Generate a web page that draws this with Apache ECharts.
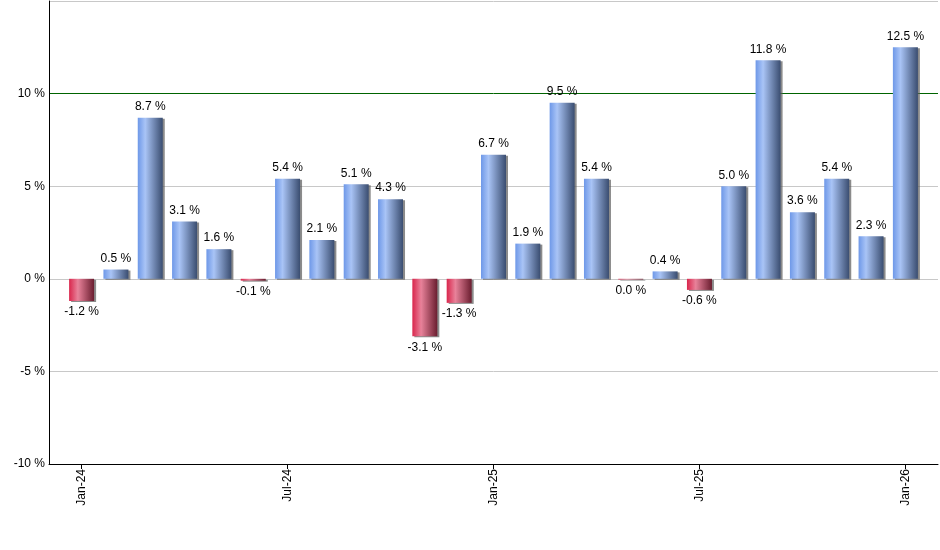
<!DOCTYPE html>
<html>
<head>
<meta charset="utf-8">
<script src="https://cdn.jsdelivr.net/npm/echarts@6/dist/echarts.min.js"></script>
<style>
  html, body { margin: 0; padding: 0; background: #fff; }
  #chart { width: 940px; height: 550px; }
</style>
</head>
<body>
<div id="chart"></div>
<script>
// monthly change, Jan-24 .. Jan-26
var months = ['Jan-24','Feb-24','Mar-24','Apr-24','May-24','Jun-24','Jul-24','Aug-24','Sep-24','Oct-24','Nov-24','Dec-24',
              'Jan-25','Feb-25','Mar-25','Apr-25','May-25','Jun-25','Jul-25','Aug-25','Sep-25','Oct-25','Nov-25','Dec-25','Jan-26'];
var values = [-1.2, 0.5, 8.7, 3.1, 1.6, -0.1, 5.4, 2.1, 5.1, 4.3, -3.1, -1.3,
              6.7, 1.9, 9.5, 5.4, -0.04, 0.4, -0.6, 5.0, 11.8, 3.6, 5.4, 2.3, 12.5];
var tickIdx = [0, 6, 12, 18, 24];
var yTicks = [-10, -5, 0, 5, 10];

var blueFill = new echarts.graphic.LinearGradient(0, 0, 1, 0, [
  {offset: 0, color: '#6e98e8'},
  {offset: 0.3, color: '#a9c4f6'},
  {offset: 1, color: '#3a4d70'}
]);
var redFill = new echarts.graphic.LinearGradient(0, 0, 1, 0, [
  {offset: 0, color: '#d9264c'},
  {offset: 0.35, color: '#e8829a'},
  {offset: 1, color: '#6a1d2f'}
]);

function fmt(v) {
  if (Math.abs(v) < 0.05) return '0.0 %';
  return v.toFixed(1) + ' %';
}

var barData = values.map(function (v, i) {
  return {
    value: [i, v],
    itemStyle: {color: v < 0 ? redFill : blueFill},
    label: {position: v < 0 ? 'bottom' : 'top'}
  };
});

var myChart = echarts.init(document.getElementById('chart'));
var option = {
  animation: false,
  grid: {left: 49, right: 2, top: 1, bottom: 86},
  xAxis: {
    type: 'value',
    min: -0.95,
    max: 24.95,
    axisLine: {onZero: false, lineStyle: {color: '#000', width: 1}},
    axisTick: {show: true, customValues: tickIdx, length: 5, lineStyle: {color: '#000'}},
    axisLabel: {
      customValues: tickIdx,
      rotate: 90,
      margin: 5,
      color: '#000',
      fontFamily: 'Liberation Sans',
      fontSize: 12,
      formatter: function (v) { return months[Math.round(v)]; }
    },
    splitLine: {show: false}
  },
  yAxis: {
    type: 'value',
    min: -10,
    max: 15,
    interval: 5,
    axisLine: {show: true, onZero: false, lineStyle: {color: '#000', width: 1}},
    axisTick: {show: false},
    axisLabel: {
      color: '#000',
      margin: 4,
      fontFamily: 'Liberation Sans',
      fontSize: 12,
      formatter: function (v) { return yTicks.indexOf(v) >= 0 ? v + ' %' : ''; }
    },
    splitLine: {
      show: true,
      lineStyle: {color: ['#c8c8c8', '#c8c8c8', '#c8c8c8', '#c8c8c8', '#006400', '#c8c8c8'], width: 1}
    }
  },
  series: [{
    type: 'bar',
    barWidth: 25,
    data: barData,
    itemStyle: {
      shadowColor: 'rgba(90,90,90,0.7)',
      shadowOffsetX: 2,
      shadowOffsetY: 1,
      shadowBlur: 0
    },
    label: {
      show: true,
      distance: 5,
      color: '#000',
      fontFamily: 'Liberation Sans',
      fontSize: 12,
      formatter: function (p) { return fmt(p.value[1]); }
    }
  }]
};
myChart.setOption(option);
</script>
</body>
</html>
